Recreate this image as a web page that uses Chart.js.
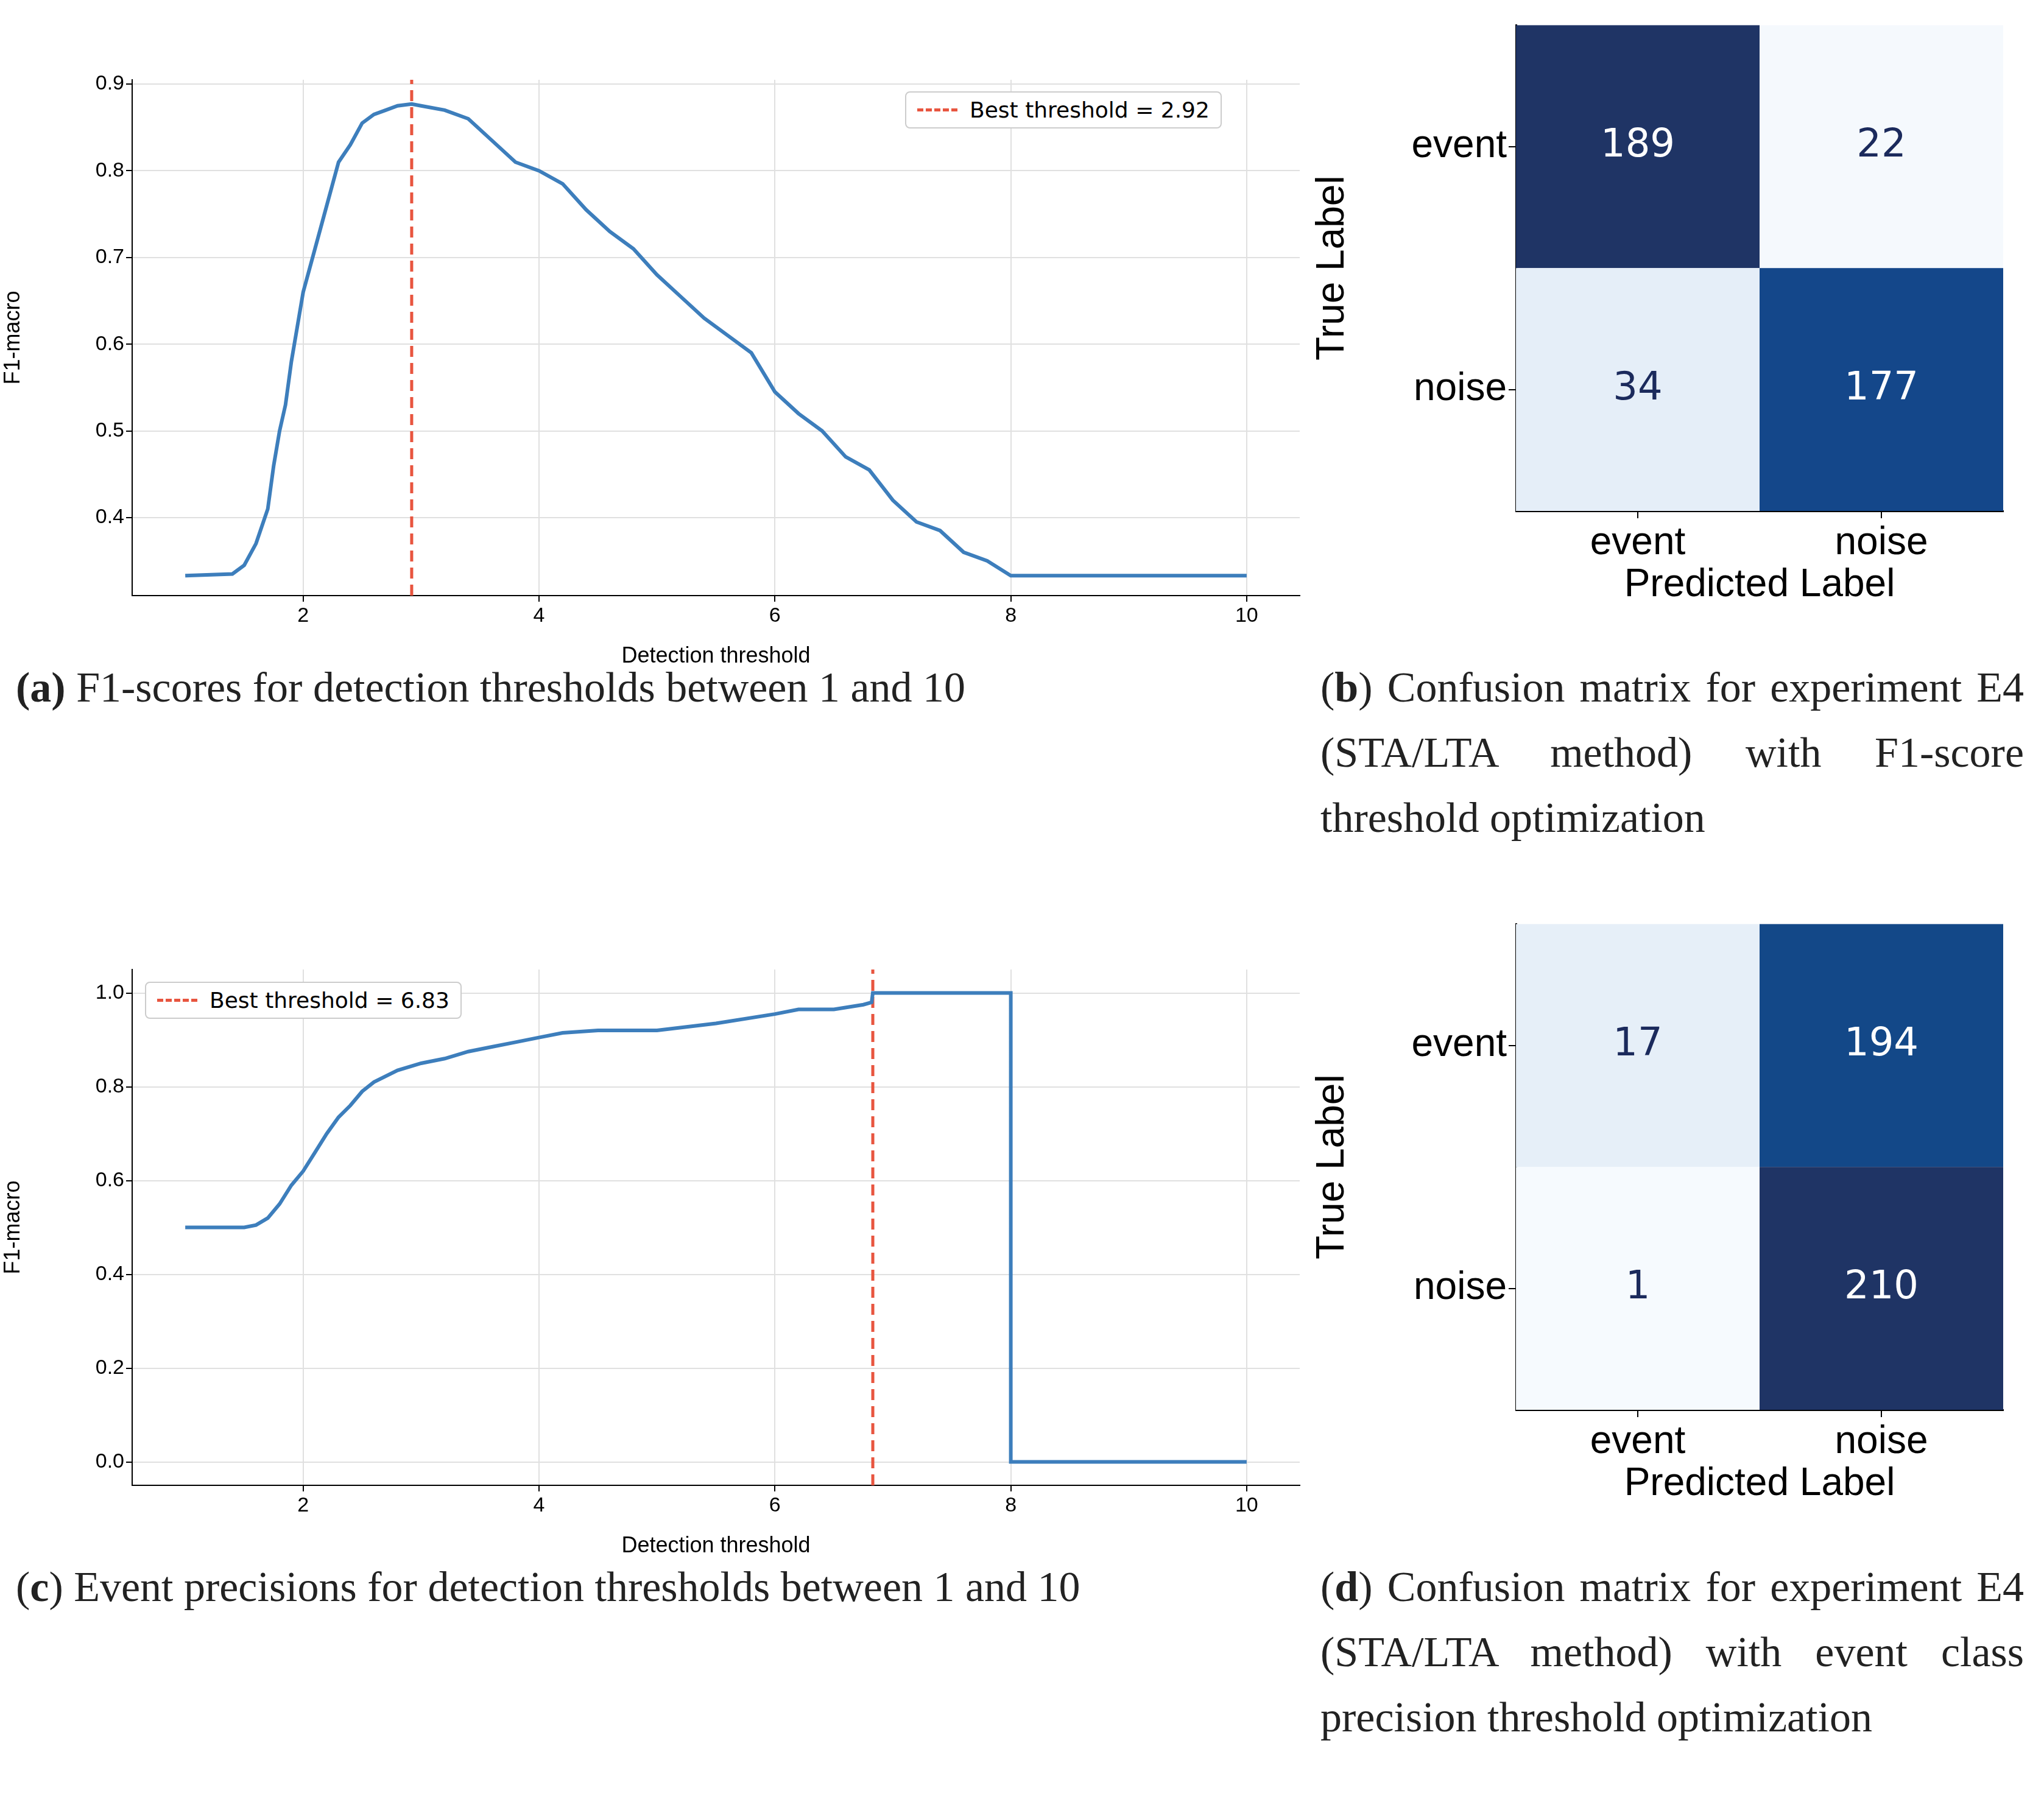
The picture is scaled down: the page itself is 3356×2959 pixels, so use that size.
<!DOCTYPE html>
<html><head><meta charset="utf-8">
<script src="https://cdn.jsdelivr.net/npm/chart.js@4"></script>
<style>
body{margin:0;background:#fff;width:3356px;height:2959px;position:relative;overflow:hidden;font-family:"DejaVu Sans",sans-serif}
canvas{position:absolute}
.cap{position:absolute;font-family:"Liberation Serif",serif;font-size:70px;line-height:107px;color:#222}
.just{text-align:justify}
.leg{position:absolute;border:2px solid #ccc;border-radius:8px;background:#fff;font-size:36px;padding:8px 18px;display:flex;align-items:center;gap:20px}
.leg span.l{display:inline-block;width:66px;border-top:5px dashed #e8553f}
</style></head><body>
<canvas id="ca" width="2180" height="1000" style="left:0;top:100px"></canvas>
<canvas id="cc" width="2180" height="1000" style="left:0;top:1561px"></canvas>
<canvas id="cb" width="1206" height="1000" style="left:2150px;top:0"></canvas>
<canvas id="cd" width="1206" height="1000" style="left:2150px;top:1476px"></canvas>
<div class="leg" style="left:1486px;top:150px"><span class="l"></span>Best threshold = 2.92</div>
<div class="leg" style="left:238px;top:1612px"><span class="l"></span>Best threshold = 6.83</div>
<div class="cap" style="left:26px;top:1075px"><b>(a)</b> F1-scores for detection thresholds between 1 and 10</div>
<div class="cap just" style="left:2168px;top:1075px;width:1155px">(<b>b</b>) Confusion matrix for experiment E4 (STA/LTA method) with F1-score threshold optimization</div>
<div class="cap" style="left:26px;top:2552px">(<b>c</b>) Event precisions for detection thresholds between 1 and 10</div>
<div class="cap just" style="left:2168px;top:2552px;width:1155px">(<b>d</b>) Confusion matrix for experiment E4 (STA/LTA method) with event class precision threshold optimization</div>
<script>
const f1X = [1,1.4,1.5,1.6,1.7,1.75,1.8,1.85,1.9,1.95,2.0,2.1,2.2,2.3,2.4,2.5,2.6,2.7,2.8,2.92,3.0,3.2,3.4,3.6,3.8,4.0,4.2,4.4,4.6,4.8,5.0,5.2,5.4,5.6,5.8,6.0,6.2,6.4,6.6,6.8,7.0,7.2,7.4,7.6,7.8,8.0,10];
const f1Y = [0.333,0.335,0.345,0.37,0.41,0.46,0.5,0.53,0.58,0.62,0.66,0.71,0.76,0.81,0.83,0.855,0.865,0.87,0.875,0.877,0.875,0.87,0.86,0.835,0.81,0.80,0.785,0.755,0.73,0.71,0.68,0.655,0.63,0.61,0.59,0.545,0.52,0.5,0.47,0.455,0.42,0.395,0.385,0.36,0.35,0.333,0.333];
const precX = [1,1.5,1.6,1.7,1.8,1.9,2.0,2.1,2.2,2.3,2.4,2.5,2.6,2.8,3.0,3.2,3.4,3.6,3.8,4.0,4.2,4.5,5.0,5.5,6.0,6.2,6.5,6.75,6.82,6.83,8.0,8.0,10];
const precY = [0.5,0.5,0.505,0.52,0.55,0.59,0.62,0.66,0.7,0.735,0.76,0.79,0.81,0.835,0.85,0.86,0.875,0.885,0.895,0.905,0.915,0.92,0.92,0.935,0.955,0.965,0.965,0.975,0.98,1.0,1.0,0,0];
const bestA = 2.92, bestC = 6.83;
const labels = ['event','noise'];
const cmB = [[189,22],[34,177]];
const cmD = [[17,194],[1,210]];
const colB = [['#1f3465','#f5f9fd'],['#e5eef8','#14478a']];
const colD = [['#e6eff8','#134888'],['#f6fafe','#1f3465']];

function lineChart(id, xs, ys, best, yMin, yMax, step) {
  new Chart(document.getElementById(id), {
    type: 'scatter',
    data: { datasets: [
      { data: xs.map((x,i)=>({x, y: ys[i]})), showLine:true, borderColor:'#3d7ebc', borderWidth:6, pointRadius:0 },
      { data: [{x:best,y:yMin},{x:best,y:yMax}], showLine:true, borderColor:'#e8553f', borderWidth:5, borderDash:[18,10], pointRadius:0 }
    ]},
    options: { responsive:false, animation:false, devicePixelRatio:1,
      layout:{padding:{top:31,right:46}},
      plugins:{legend:{display:false},tooltip:{enabled:false}},
      scales:{
        x:{min:0.55,max:10.45,afterBuildTicks:s=>{s.ticks=[2,4,6,8,10].map(v=>({value:v}));},
          afterFit:s=>{s.height=122;},
          grid:{color:'#e0e0e0',lineWidth:2,tickColor:'#000',tickLength:10},border:{color:'#000',width:2},
          ticks:{color:'#000',font:{size:34},maxRotation:0},
          title:{display:true,text:'Detection threshold',color:'#000',font:{size:36},padding:0}},
        y:{min:yMin,max:yMax,afterBuildTicks:s=>{const t=[];for(let v=step.start;v<=step.end+1e-9;v+=step.by)t.push({value:+v.toFixed(2)});s.ticks=t;},
          afterFit:s=>{s.width=217;},
          grid:{color:'#e0e0e0',lineWidth:2,tickColor:'#000',tickLength:10},border:{color:'#000',width:2},
          ticks:{color:'#000',font:{size:34},callback:v=>v.toFixed(1)},
          title:{display:true,text:'F1-macro',color:'#000',font:{size:36},padding:0}}
      }}
  });
}
lineChart('ca', f1X, f1Y, bestA, 0.31, 0.905, {start:0.4,end:0.9,by:0.1});
lineChart('cc', precX, precY, bestC, -0.05, 1.05, {start:0,end:1,by:0.2});

function matrix(id, cm, col) {
  const cells = {
    id:'cells',
    beforeDatasetsDraw(ch){
      const c=ch.ctx, xs=ch.scales.x, ys=ch.scales.y;
      for(let r=0;r<2;r++)for(let k=0;k<2;k++){
        const x0=xs.getPixelForValue(k-0.5), x1=xs.getPixelForValue(k+0.5);
        const y0=ys.getPixelForValue(r-0.5), y1=ys.getPixelForValue(r+0.5);
        c.fillStyle=col[r][k]; c.fillRect(x0,y0,x1-x0,y1-y0);
        const dark = cm[r][k]>100;
        c.fillStyle = dark?'#fff':'#1b2a5c';
        c.font='64px "DejaVu Sans"'; c.textAlign='center'; c.textBaseline='middle';
        c.fillText(String(cm[r][k]),(x0+x1)/2,(y0+y1)/2);
      }
    }
  };
  const tick = {color:'#000',font:{size:64},callback:v=>labels[v]??''};
  new Chart(document.getElementById(id), {
    type:'scatter', data:{datasets:[{data:[]}]}, plugins:[cells],
    options:{responsive:false,animation:false,devicePixelRatio:1,
      layout:{padding:{top:41,right:67}},
      plugins:{legend:{display:false},tooltip:{enabled:false}},
      scales:{
        x:{min:-0.5,max:1.5,afterBuildTicks:s=>{s.ticks=[{value:0},{value:1}];},afterFit:s=>{s.height=161;},
          grid:{drawOnChartArea:false,color:'#000',lineWidth:2,tickLength:12},border:{color:'#000',width:3},
          ticks:tick,title:{display:true,text:'Predicted Label',color:'#000',font:{size:64},padding:0}},
        y:{min:-0.5,max:1.5,reverse:true,afterBuildTicks:s=>{s.ticks=[{value:0},{value:1}];},afterFit:s=>{s.width=339;},
          grid:{drawOnChartArea:false,color:'#000',lineWidth:2,tickLength:12},border:{color:'#000',width:3},
          ticks:tick,title:{display:true,text:'True Label',color:'#000',font:{size:64},padding:0}}
      }}
  });
}
matrix('cb', cmB, colB);
matrix('cd', cmD, colD);
</script>
</body></html>
